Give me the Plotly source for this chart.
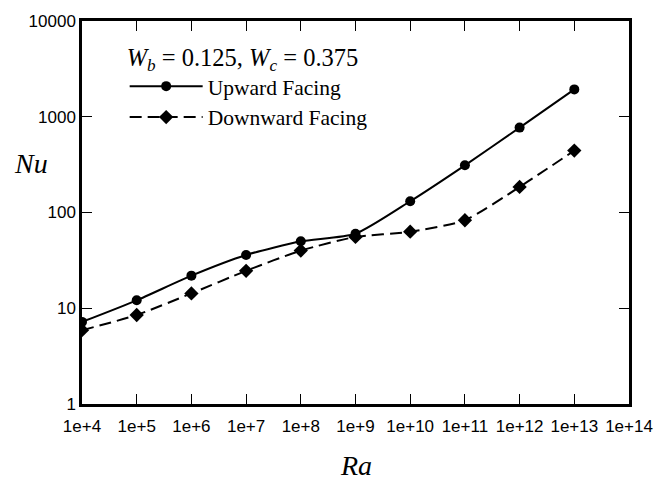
import plotly.graph_objects as go

ra = [1e4, 1e5, 1e6, 1e7, 1e8, 1e9, 1e10, 1e11, 1e12, 1e13]
nu_up = [7.2, 12.1, 21.9, 36, 50, 60, 131, 311, 770, 1930]
nu_down = [5.9, 8.5, 14.3, 24.6, 40, 55.6, 63, 83, 185, 443]

x_tickvals = [10 ** k for k in range(4, 15)]
x_ticktext = ["1e+%d" % k for k in range(4, 15)]
y_tickvals = [1, 10, 100, 1000, 10000]
y_ticktext = ["1", "10", "100", "1000", "10000"]

serif = "Liberation Serif, Times New Roman, serif"
sans = "Liberation Sans, Arial, sans-serif"

fig = go.Figure()
fig.add_trace(go.Scatter(
    x=ra, y=nu_up, name="Upward Facing", mode="lines+markers",
    line=dict(color="black", width=2, shape="spline", smoothing=0.6),
    marker=dict(symbol="circle", size=10, color="black"),
))
fig.add_trace(go.Scatter(
    x=ra, y=nu_down, name="Downward Facing", mode="lines+markers",
    line=dict(color="black", width=2, dash="12px,6px", shape="spline", smoothing=0.6),
    marker=dict(symbol="diamond", size=11, color="black"),
))

axis_common = dict(
    showline=True, linecolor="black", linewidth=2.5, mirror="allticks",
    ticks="inside", ticklen=10, tickwidth=1, tickcolor="black",
    showgrid=False, zeroline=False,
    tickfont=dict(family=sans, size=17, color="black"),
    ticklabeloverflow="allow",
)

fig.update_layout(
    width=665, height=480,
    margin=dict(l=82, r=27, t=16, b=76),
    paper_bgcolor="white", plot_bgcolor="white",
    showlegend=True,
    legend=dict(
        x=0.078, y=0.9665, xanchor="left", yanchor="top",
        bgcolor="rgba(0,0,0,0)", borderwidth=0,
        font=dict(family=serif, size=21.5, color="black"),
        title=dict(
            text="<i>W</i><sub><i>b</i></sub> = 0.125, <i>W</i><sub><i>c</i></sub> = 0.375",
            font=dict(family=serif, size=24.5, color="black"), side="top",
        ),
        itemwidth=73, tracegroupgap=0,
    ),
    xaxis=dict(
        type="log", range=[4, 14], tickvals=x_tickvals, ticktext=x_ticktext,
        ticklabelstandoff=5,
        **axis_common,
    ),
    yaxis=dict(
        type="log", range=[0, 4], tickvals=y_tickvals, ticktext=y_ticktext,
        **axis_common,
    ),
    annotations=[
        dict(
            text="<i>Nu</i>", xref="paper", yref="paper", x=-0.0935, y=0.629,
            xanchor="center", yanchor="middle", showarrow=False,
            font=dict(family=serif, size=28, color="black"),
        ),
        dict(
            text="<i>Ra</i>", xref="paper", yref="paper", x=0.5, y=-0.16,
            xanchor="center", yanchor="middle", showarrow=False,
            font=dict(family=serif, size=28, color="black"),
        ),
    ],
)

fig.write_html(
    "out.html",
    config={"displayModeBar": False},
    post_script=(
        "document.body.style.margin='0';"
        "document.body.style.overflow='hidden';"
        "document.documentElement.style.overflow='hidden';"
    ),
)
